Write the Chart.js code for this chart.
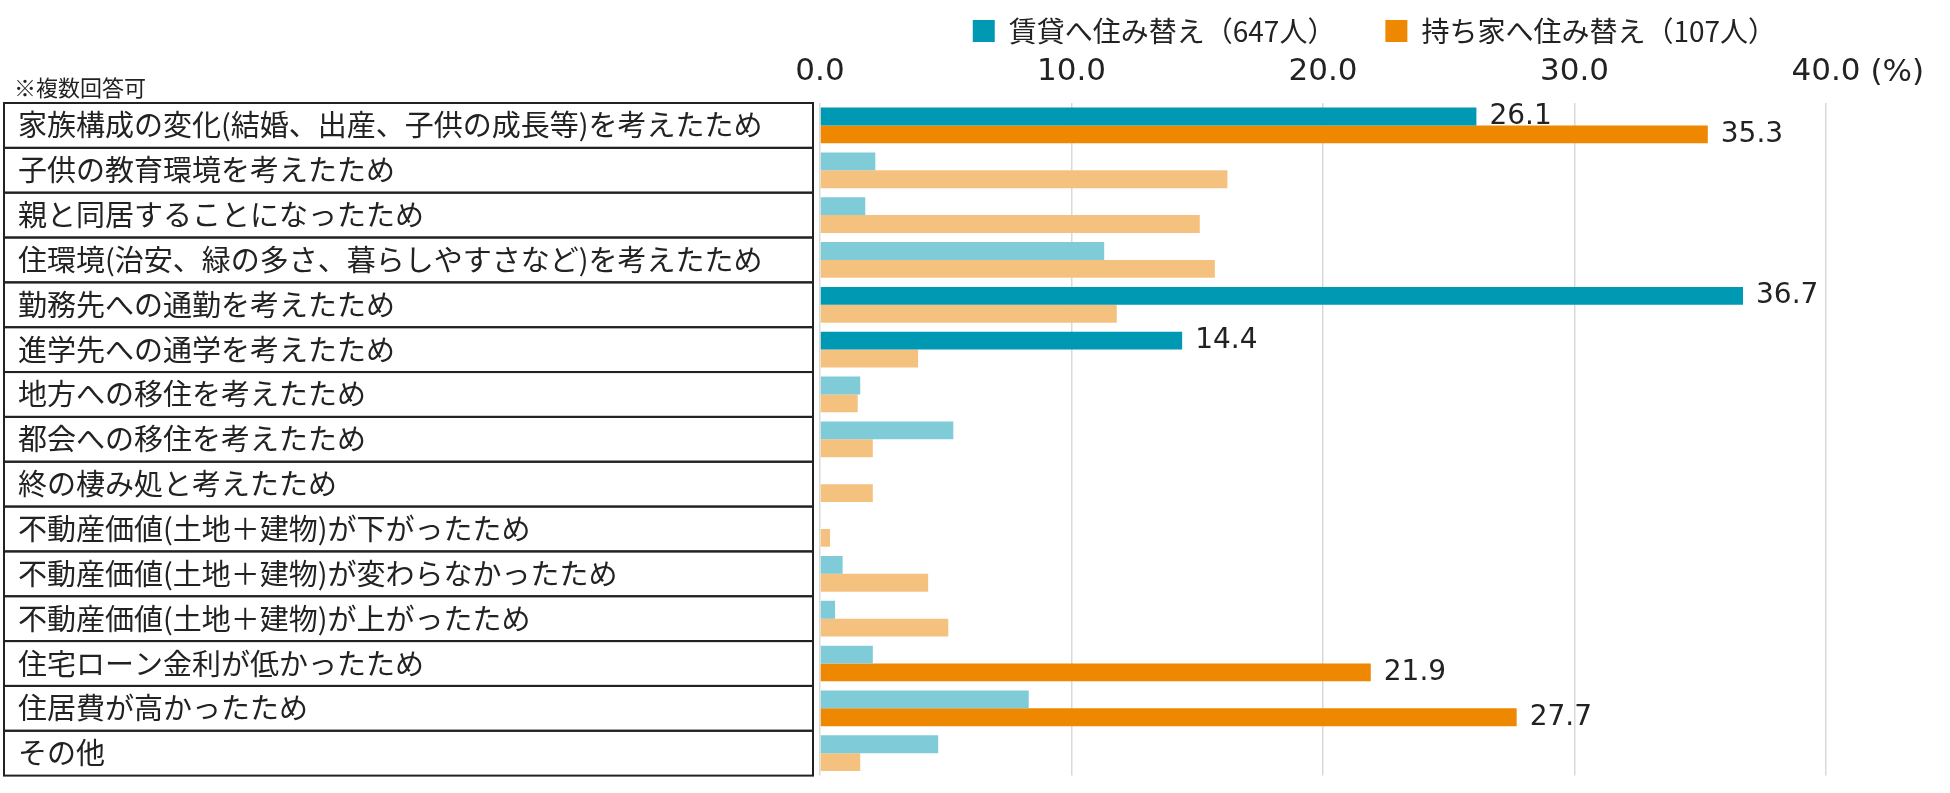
<!DOCTYPE html>
<html lang="ja">
<head>
<meta charset="UTF-8">
<title>住み替えの理由</title>
<script src="https://cdn.jsdelivr.net/npm/chart.js@4.4.1/dist/chart.umd.min.js"></script>
<style>
    html, body { margin: 0; padding: 0; background: #fff; }
    #wrap { width: 1950px; height: 793px; position: relative; }
</style>
</head>
<body>
<div id="wrap"><canvas id="graph1"></canvas></div>
<script>
const reasons = [
    '家族構成の変化(結婚、出産、子供の成長等)を考えたため',
    '子供の教育環境を考えたため',
    '親と同居することになったため',
    '住環境(治安、緑の多さ、暮らしやすさなど)を考えたため',
    '勤務先への通勤を考えたため',
    '進学先への通学を考えたため',
    '地方への移住を考えたため',
    '都会への移住を考えたため',
    '終の棲み処と考えたため',
    '不動産価値(土地＋建物)が下がったため',
    '不動産価値(土地＋建物)が変わらなかったため',
    '不動産価値(土地＋建物)が上がったため',
    '住宅ローン金利が低かったため',
    '住居費が高かったため',
    'その他'
];

const rentValues = [26.1, 2.2, 1.8, 11.3, 36.7, 14.4, 1.6, 5.3, 0, 0, 0.9, 0.6, 2.1, 8.3, 4.7];
const ownValues  = [35.3, 16.2, 15.1, 15.7, 11.8, 3.9, 1.5, 2.1, 2.1, 0.4, 4.3, 5.1, 21.9, 27.7, 1.6];

// bars that are emphasised (dark colour + value label)
const rentHighlight = [0, 4, 5];
const ownHighlight = [0, 12, 13];

const xTicks = [0, 10, 20, 30, 40];
const seriesNames = ['賃貸へ住み替え（647人）', '持ち家へ住み替え（107人）'];
const noteText = '※複数回答可';
const unitText = '(%)';

const jpFont = "'Noto Sans CJK JP', 'Noto Sans', sans-serif";
const numFont = "'DejaVu Sans', sans-serif";

document.addEventListener('DOMContentLoaded', () => {
    configureChart();
});

function pickColor(highlight, dark, light) {
    return (ctx) => {
        if (ctx.dataIndex === undefined) return dark;
        return highlight.includes(ctx.dataIndex) ? dark : light;
    };
}

// label boxes, note and unit text
const decorPlugin = {
    id: 'decor',
    beforeDatasetsDraw(chart) {
        const ctx = chart.ctx;
        const y = chart.scales.y;
        const step = (y.bottom - y.top) / reasons.length;
        ctx.save();
        ctx.strokeStyle = '#222';
        ctx.lineWidth = 2;
        reasons.forEach((r, i) => {
            const cy = y.getPixelForValue(i);
            ctx.strokeRect(4, cy - step / 2, 809, step);
        });
        ctx.fillStyle = '#222';
        ctx.font = `22px ${jpFont}`;
        ctx.textBaseline = 'middle';
        ctx.textAlign = 'left';
        ctx.fillText(noteText, 14, 88);

        const x = chart.scales.x;
        const last = xTicks[xTicks.length - 1];
        ctx.font = `31px ${numFont}`;
        const w = ctx.measureText(last.toFixed(1)).width;
        ctx.fillText(unitText, x.getPixelForValue(last) + w / 2 + 10, 72.5);
        ctx.restore();
    }
};

const valueLabelPlugin = {
    id: 'valueLabels',
    afterDatasetsDraw(chart) {
        const ctx = chart.ctx;
        const highlights = [rentHighlight, ownHighlight];
        ctx.save();
        ctx.fillStyle = '#222';
        ctx.font = `28px ${numFont}`;
        ctx.textBaseline = 'middle';
        ctx.textAlign = 'left';
        chart.data.datasets.forEach((ds, di) => {
            const meta = chart.getDatasetMeta(di);
            highlights[di].forEach((idx) => {
                const bar = meta.data[idx];
                ctx.fillText(ds.data[idx].toFixed(1), bar.x + 13, bar.y);
            });
        });
        ctx.restore();
    }
};

function configureChart() {
    const data1 = {
        labels: reasons,
        datasets: [{
            label: seriesNames[0],
            data: rentValues,
            backgroundColor: pickColor(rentHighlight, '#0099b4', '#7fcbd7'),
            borderWidth: 0
        }, {
            label: seriesNames[1],
            data: ownValues,
            backgroundColor: pickColor(ownHighlight, '#ee8800', '#f4c27e'),
            borderWidth: 0
        }]
    };

    const config = {
        type: 'bar',
        data: data1,
        options: {
            indexAxis: 'y',
            responsive: true,
            maintainAspectRatio: false,
            animation: false,
            events: [],
            categoryPercentage: 0.797,
            barPercentage: 1.0,
            layout: {
                padding: { top: -33, left: 18, right: 124, bottom: 12 }
            },
            plugins: {
                legend: {
                    position: 'top',
                    align: 'end',
                    labels: {
                        boxWidth: 22,
                        boxHeight: 22,
                        padding: 50,
                        color: '#222',
                        font: { family: jpFont, size: 28 }
                    }
                },
                tooltip: { enabled: false }
            },
            scales: {
                x: {
                    position: 'top',
                    min: xTicks[0],
                    max: xTicks[xTicks.length - 1],
                    afterBuildTicks: (scale) => {
                        scale.ticks = xTicks.map(v => ({ value: v }));
                    },
                    afterFit: (scale) => { scale.height = 48; },
                    ticks: {
                        padding: 12,
                        color: '#222',
                        font: { family: numFont, size: 31 },
                        callback: (v) => Number(v).toFixed(1)
                    },
                    grid: {
                        color: '#d9d9d9',
                        lineWidth: 1.5,
                        drawTicks: false
                    },
                    border: { display: false }
                },
                y: {
                    afterFit: (scale) => { scale.width = 802; },
                    ticks: {
                        autoSkip: false,
                        crossAlign: 'far',
                        padding: 0,
                        color: '#222',
                        font: { family: jpFont, size: 29 }
                    },
                    grid: { display: false },
                    border: { display: false }
                }
            }
        },
        plugins: [decorPlugin, valueLabelPlugin]
    };

    const ctx = document.getElementById('graph1').getContext('2d');
    new Chart(ctx, config);
}
</script>
</body>
</html>
